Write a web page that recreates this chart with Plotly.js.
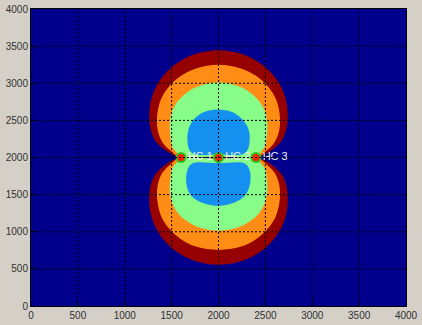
<!DOCTYPE html>
<html>
<head>
<meta charset="utf-8">
<script src="https://cdn.plot.ly/plotly-3.0.1.min.js"></script>
<style>html,body{margin:0;padding:0;background:#d4d0c8;}#chart{width:422px;height:325px;}</style>
</head>
<body>
<div id="chart"></div>
<script>
// ---- data ----
var tickVals = [0, 500, 1000, 1500, 2000, 2500, 3000, 3500, 4000];
var tickText = ["0", "500", "1000", "1500", "2000", "2500", "3000", "3500", "4000"];

// contour level outlines (upper and lower lobes)
var redUpperX = [1560, 1430, 1325, 1272, 1262, 1280, 1332, 1445, 1592, 1766, 2000, 2234, 2408, 2555, 2668, 2720, 2738, 2728, 2675, 2570, 2440, 2000, 1560];
var redUpperY = [2015, 2100, 2230, 2400, 2600, 2770, 2950, 3150, 3300, 3400, 3445, 3400, 3300, 3150, 2950, 2770, 2600, 2400, 2230, 2100, 2015, 2015, 2015];
var redLowerX = [1560, 2000, 2440, 2570, 2675, 2728, 2738, 2720, 2668, 2555, 2408, 2234, 2000, 1766, 1592, 1445, 1332, 1280, 1262, 1272, 1325, 1430, 1560];
var redLowerY = [1985, 1985, 1985, 1900, 1770, 1600, 1400, 1230, 1050, 850, 700, 600, 555, 600, 700, 850, 1050, 1230, 1400, 1600, 1770, 1900, 1985];

var orangeUpperX = [1575, 1490, 1405, 1355, 1345, 1385, 1468, 1600, 1760, 2000, 2240, 2400, 2532, 2615, 2655, 2645, 2595, 2510, 2425, 2000, 1575];
var orangeUpperY = [2015, 2090, 2200, 2350, 2550, 2780, 2950, 3100, 3200, 3250, 3200, 3100, 2950, 2780, 2550, 2350, 2200, 2090, 2015, 2015, 2015];
var orangeLowerX = [1575, 2000, 2425, 2510, 2595, 2645, 2655, 2615, 2532, 2400, 2240, 2000, 1760, 1600, 1468, 1385, 1345, 1355, 1405, 1490, 1575];
var orangeLowerY = [1985, 1985, 1985, 1910, 1800, 1650, 1450, 1220, 1050, 900, 800, 755, 800, 900, 1050, 1220, 1450, 1650, 1800, 1910, 1985];

var greenUpperX = [1590, 1560, 1505, 1485, 1480, 1505, 1567, 1667, 1786, 2000, 2214, 2333, 2433, 2495, 2520, 2515, 2495, 2440, 2410, 2000, 1590];
var greenUpperY = [2015, 2060, 2150, 2300, 2450, 2620, 2760, 2880, 2960, 3010, 2960, 2880, 2760, 2620, 2450, 2300, 2150, 2060, 2015, 2015, 2015];
var greenLowerX = [1590, 2000, 2410, 2440, 2495, 2515, 2520, 2495, 2433, 2333, 2214, 2000, 1786, 1667, 1567, 1505, 1480, 1485, 1505, 1560, 1590];
var greenLowerY = [1985, 1985, 1985, 1940, 1850, 1700, 1550, 1390, 1250, 1140, 1060, 1015, 1060, 1140, 1250, 1390, 1550, 1700, 1850, 1940, 1985];

var blueUpperX = [1740, 1690, 1668, 1685, 1740, 1840, 1995, 2150, 2250, 2315, 2333, 2310, 2260, 2000, 1740];
var blueUpperY = [2045, 2100, 2250, 2400, 2520, 2610, 2645, 2610, 2520, 2400, 2250, 2100, 2045, 2040, 2045];
var blueLowerX = [1720, 2000, 2280, 2330, 2340, 2300, 2200, 1995, 1790, 1690, 1655, 1670, 1720];
var blueLowerY = [1920, 1925, 1920, 1840, 1680, 1520, 1410, 1349, 1410, 1520, 1680, 1840, 1920];

// stations
var stationX = [1600, 2000, 2400];
var stationY = [2000, 2000, 2000];
var stationNames = ["НС 1", "НС 2", "НС 3"];

// ---- styling ----
var colBg = "#00008c", colBlue = "#1490f0", colGreen = "#88fc88", colOrange = "#ff8c14", colRed = "#960000";

function lobe(x, y, c) {
  return {x: x, y: y, type: "scatter", mode: "lines", fill: "toself", fillcolor: c,
          line: {width: 0, shape: "spline", smoothing: 1, color: c}, hoverinfo: "skip", showlegend: false};
}

var traces = [
  lobe(redUpperX, redUpperY, colRed), lobe(redLowerX, redLowerY, colRed),
  lobe(orangeUpperX, orangeUpperY, colOrange), lobe(orangeLowerX, orangeLowerY, colOrange),
  lobe(greenUpperX, greenUpperY, colGreen), lobe(greenLowerX, greenLowerY, colGreen),
  lobe(blueUpperX, blueUpperY, colBlue), lobe(blueLowerX, blueLowerY, colBlue),
  {x: stationX, y: stationY, type: "scatter", mode: "markers+text", text: stationNames,
   textposition: "middle right", textfont: {family: "Liberation Sans, Arial, sans-serif", size: 11, color: "#f0f0f0"},
   marker: {size: 9, color: "#ff2000", line: {color: "#30c020", width: 2}}, showlegend: false, hoverinfo: "skip"}
];

var shapes = [];
tickVals.slice(1, -1).forEach(function (v) {
  shapes.push({type: "line", xref: "x", yref: "y", x0: v, x1: v, y0: 0, y1: 4000, layer: "above",
               line: {color: "#000000", width: 1, dash: "2px,2px"}});
  shapes.push({type: "line", xref: "x", yref: "y", x0: 0, x1: 4000, y0: v, y1: v, layer: "above",
               line: {color: "#000000", width: 1, dash: "2px,2px"}});
});

var axisCommon = {range: [0, 4000], tickvals: tickVals, ticktext: tickText, showgrid: false, zeroline: false,
  showline: true, mirror: true, linecolor: "#000000", linewidth: 1, ticks: "inside", ticklen: 4, tickcolor: "#000000",
  tickfont: {family: "Liberation Sans, Arial, sans-serif", size: 10, color: "#303030"}, fixedrange: true};

var layout = {
  width: 422, height: 325,
  margin: {l: 31, r: 16, t: 9, b: 19},
  paper_bgcolor: "#d4d0c8", plot_bgcolor: colBg,
  xaxis: Object.assign({}, axisCommon),
  yaxis: Object.assign({}, axisCommon),
  shapes: shapes,
  showlegend: false
};

Plotly.newPlot("chart", traces, layout, {displayModeBar: false, staticPlot: true});
</script>
</body>
</html>
